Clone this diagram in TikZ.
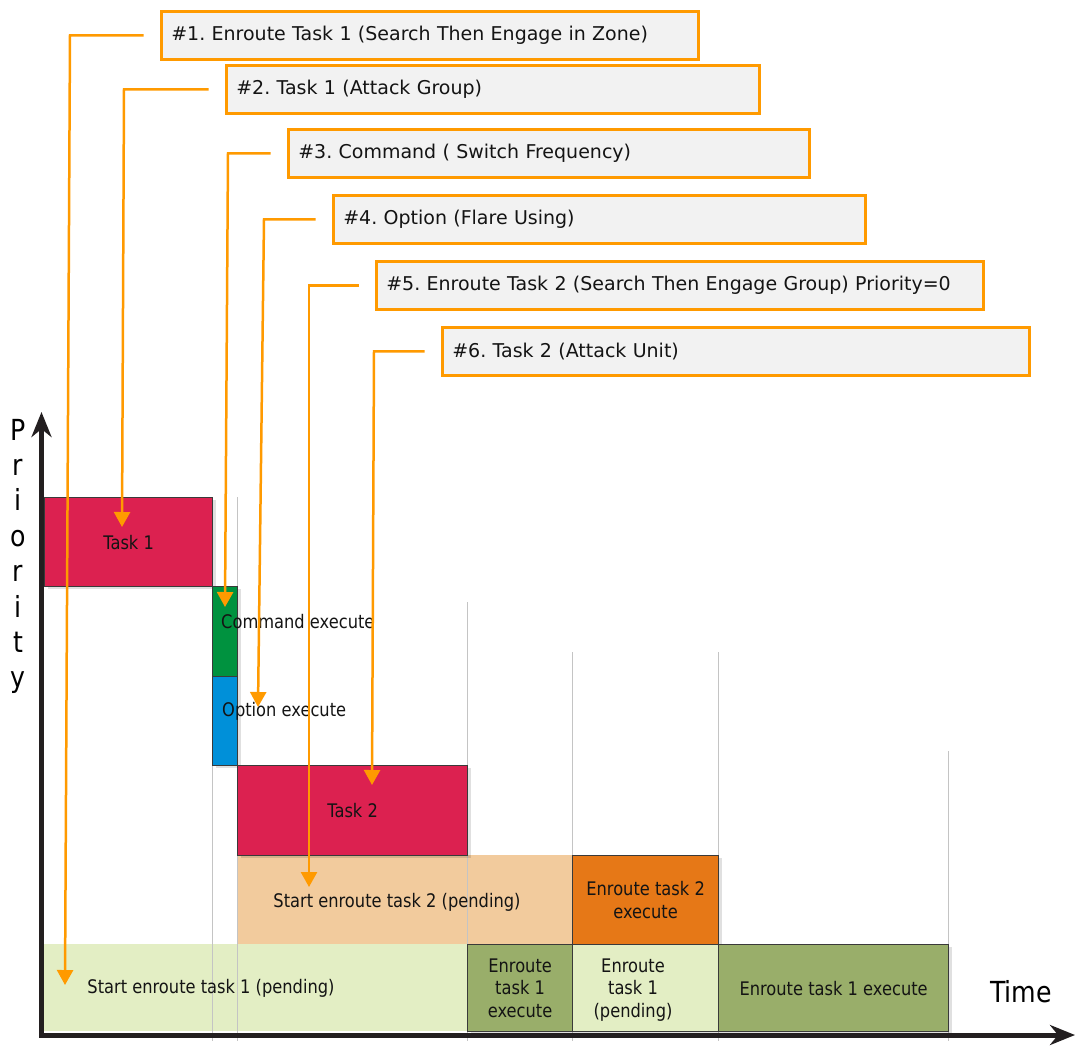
\documentclass[tikz,border=0pt]{standalone}
\usepackage{fontspec}
\setmainfont{DejaVu Sans}
\newfontfamily\narrowfam{DejaVu Sans}[FakeStretch=0.87]
\frenchspacing
\usetikzlibrary{arrows.meta,shadows}
\definecolor{orng}{HTML}{FF9A00}
\definecolor{lblfill}{HTML}{F2F2F2}
\definecolor{crim}{HTML}{DC2150}
\definecolor{grn}{HTML}{00923F}
\definecolor{blu}{HTML}{0090D9}
\definecolor{peach}{HTML}{F2CB9D}
\definecolor{orbar}{HTML}{E67817}
\definecolor{lgrn}{HTML}{E3EEC4}
\definecolor{olive}{HTML}{99AE6A}
\definecolor{barline}{HTML}{3A3A3A}
\definecolor{gridgray}{HTML}{C4C4C4}
\definecolor{axisblk}{HTML}{231F20}
\definecolor{txt}{HTML}{141414}
\newcommand\lblfont{\fontsize{19}{23}\selectfont}
\newcommand\barfont{\narrowfam\fontsize{18.7}{22.5}\selectfont}
\newcommand\bigfont{\narrowfam\fontsize{29}{32}\selectfont}
\tikzset{
  lbl/.style={draw=orng, line width=2.5pt, fill=lblfill, anchor=north west,
    minimum height=48pt, inner xsep=10pt, inner ysep=0pt, align=left,
    font=\lblfont, text=txt},
  conn/.style={draw=orng, line width=2.5pt, line join=miter,
    -{Triangle[width=16pt,length=15pt]}},
  bar/.style={draw=barline, line width=1.2pt, anchor=north west, inner sep=0pt,
    font=\barfont, text=txt, align=center,
    drop shadow={shadow xshift=3pt, shadow yshift=-2pt, opacity=0.12, fill=black}},
  flat/.style={anchor=north west, inner sep=0pt},
  bartext/.style={font=\barfont, text=txt, align=center, inner sep=0pt},
  gridline/.style={draw=gridgray, line width=1pt},
  axisline/.style={draw=axisblk, line width=5pt, line join=miter,
    {Stealth[length=25pt,width=20pt,inset=8pt]}-{Stealth[length=25pt,width=20pt,inset=8pt]}},
  bigtext/.style={font=\bigfont, text=black, inner sep=0pt}
}
\begin{document}
\begin{tikzpicture}[x=1pt,y=-1pt]
\useasboundingbox (0,0) rectangle (1076,1045);

% light (unbordered) pending bars
\node[flat, fill=peach, minimum width=335pt, minimum height=89pt] (pend2) at (237,855) {};
\node[flat, fill=lgrn, minimum width=423pt, minimum height=87pt] (pend1) at (44,944) {};

% grid lines
\foreach \gx/\gy in {212/497, 237/497, 467/602, 572/652, 718/652, 948/751}
  \draw[gridline] (\gx,\gy) -- (\gx,1041);

% bordered bars
\node[bar, fill=crim, minimum width=168pt, minimum height=89pt] (task1) at (44,497) {Task 1};
\node[bar, fill=grn, minimum width=25pt, minimum height=90pt] (cmd) at (212,586) {};
\node[bar, fill=blu, minimum width=25pt, minimum height=89pt] (opt) at (212,676) {};
\node[bar, fill=crim, minimum width=230pt, minimum height=90pt] (task2) at (237,765) {Task 2};
\node[bar, fill=orbar, minimum width=146pt, minimum height=89pt] (exec2) at (572,855) {Enroute task 2\\execute};
\node[bar, fill=olive, minimum width=105pt, minimum height=87pt] (exec1a) at (467,944) {Enroute\\task 1\\execute};
\node[bar, fill=lgrn, minimum width=146pt, minimum height=87pt] (pend1b) at (572,944) {};
\node[bar, fill=olive, minimum width=230pt, minimum height=87pt] (exec1b) at (718,944) {Enroute task 1 execute};

% free texts
\node[bartext, anchor=west] (cmdtxt) at (221,622) {Command execute};
\node[bartext, anchor=west] (opttxt) at (222,711) {Option execute};
\node[bartext] (p2txt) at (397,902) {Start enroute task 2 (pending)};
\node[bartext] (p1txt) at (211,988) {Start enroute task 1 (pending)};
\node[bartext] (p1btxt) at (633,990) {Enroute\\task 1\\(pending)};

% axes
\coordinate (origin) at (41.5,1035);
\coordinate (ytip) at (41.5,412);
\coordinate (xtip) at (1075,1035);
\draw[axisline] (ytip) -- (origin) -- (xtip);

\node[bigtext, anchor=base] (time) at (1021,1002) {Time};
\foreach \ch [count=\k from 0] in {P,r,i,o,r,i,t,y}
  \node[bigtext, anchor=base] (pr\k) at (18,{440+35.4*\k}) {\ch};

% label boxes
\node[lbl, text width=517pt] (L1) at (160,10) {\#1. Enroute Task 1 (Search Then Engage in Zone)};
\node[lbl, text width=513pt] (L2) at (225,64) {\#2. Task 1 (Attack Group)};
\node[lbl, text width=501pt] (L3) at (287,128) {\#3. Command ( Switch Frequency)};
\node[lbl, text width=512pt] (L4) at (332,194) {\#4. Option (Flare Using)};
\node[lbl, text width=587pt] (L5) at (375,260) {\#5. Enroute Task 2 (Search Then Engage Group) Priority=0};
\node[lbl, text width=567pt] (L6) at (441,326) {\#6. Task 2 (Attack Unit)};

% connector corners and targets
\coordinate (k1) at (70,0);  \coordinate (t1) at (65,985);
\coordinate (k2) at (124,0); \coordinate (t2) at (122,527);
\coordinate (k3) at (228,0); \coordinate (t3) at (225,607);
\coordinate (k4) at (264,0); \coordinate (t4) at (258,707);
\coordinate (k5) at (309,0); \coordinate (t5) at (309,887);
\coordinate (k6) at (374,0); \coordinate (t6) at (372,785);

\draw[conn] ([xshift=-16.5pt]L1.west) -- (k1 |- L1.west) -- (t1);
\draw[conn] ([xshift=-16.5pt]L2.west) -- (k2 |- L2.west) -- (t2);
\draw[conn] ([xshift=-16.5pt]L3.west) -- (k3 |- L3.west) -- (t3);
\draw[conn] ([xshift=-16.5pt]L4.west) -- (k4 |- L4.west) -- (t4);
\draw[conn] ([xshift=-16.5pt]L5.west) -- (k5 |- L5.west) -- (t5);
\draw[conn] ([xshift=-16.5pt]L6.west) -- (k6 |- L6.west) -- (t6);
\end{tikzpicture}
\end{document}
